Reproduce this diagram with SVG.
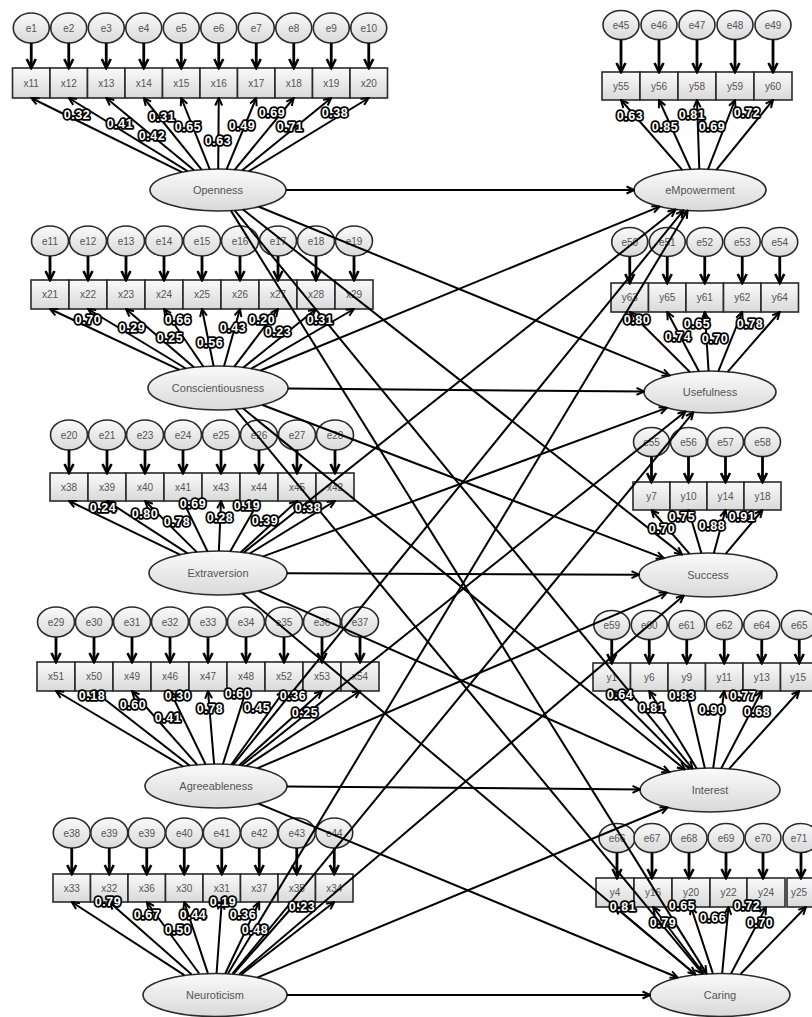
<svg xmlns="http://www.w3.org/2000/svg" width="812" height="1017" viewBox="0 0 812 1017">
<defs>
<linearGradient id="g" x1="0" y1="0" x2="0" y2="1"><stop offset="0" stop-color="#fafafa"/><stop offset="1" stop-color="#d9d9d9"/></linearGradient>
<marker id="ah" viewBox="0 0 12 12" refX="10.5" refY="6" markerWidth="12" markerHeight="12" markerUnits="userSpaceOnUse" orient="auto"><path d="M1.5,1.5 L10.5,6 L1.5,10.5" fill="none" stroke="#000" stroke-width="2.6"/></marker>
<marker id="av" viewBox="0 0 10 10" refX="9" refY="5" markerWidth="10" markerHeight="10" markerUnits="userSpaceOnUse" orient="auto"><path d="M1.5,1.5 L9,5 L1.5,8.5" fill="none" stroke="#000" stroke-width="2"/></marker>
<style>
.n ellipse,.n rect{fill:url(#g);stroke:#2a2a2a;stroke-width:1.6}
.n text{font-family:"Liberation Sans",Arial,sans-serif;font-size:10px;fill:#555;text-anchor:middle}
.lv text{font-size:11px}
#connectors line{stroke:#000;fill:none}
.ea{stroke-width:2.8;marker-end:url(#ah)}
.ld{stroke-width:2;marker-end:url(#av)}
.sp{stroke-width:2;marker-end:url(#av)}
#labels text{font-family:"Liberation Sans",Arial,sans-serif;font-weight:bold;font-size:12.5px;fill:#fff;stroke:#000;stroke-width:3.6;stroke-linejoin:round;paint-order:stroke;text-anchor:middle;letter-spacing:0.6px}
</style>
</defs>
<rect width="812" height="1017" fill="#fff"/>

<!-- Openness block -->
<g id="e1" class="n"><ellipse cx="31.25" cy="28" rx="18" ry="15"/><text x="31.25" y="31.5">e1</text></g>
<g id="e2" class="n"><ellipse cx="68.75" cy="28" rx="18" ry="15"/><text x="68.75" y="31.5">e2</text></g>
<g id="e3" class="n"><ellipse cx="106.25" cy="28" rx="18" ry="15"/><text x="106.25" y="31.5">e3</text></g>
<g id="e4" class="n"><ellipse cx="143.75" cy="28" rx="18" ry="15"/><text x="143.75" y="31.5">e4</text></g>
<g id="e5" class="n"><ellipse cx="181.25" cy="28" rx="18" ry="15"/><text x="181.25" y="31.5">e5</text></g>
<g id="e6" class="n"><ellipse cx="218.75" cy="28" rx="18" ry="15"/><text x="218.75" y="31.5">e6</text></g>
<g id="e7" class="n"><ellipse cx="256.25" cy="28" rx="18" ry="15"/><text x="256.25" y="31.5">e7</text></g>
<g id="e8" class="n"><ellipse cx="293.75" cy="28" rx="18" ry="15"/><text x="293.75" y="31.5">e8</text></g>
<g id="e9" class="n"><ellipse cx="331.25" cy="28" rx="18" ry="15"/><text x="331.25" y="31.5">e9</text></g>
<g id="e10" class="n"><ellipse cx="368.75" cy="28" rx="18" ry="15"/><text x="368.75" y="31.5">e10</text></g>
<g id="x11" class="n"><rect x="12.5" y="68" width="37.5" height="30"/><text x="31.25" y="86.5">x11</text></g>
<g id="x12" class="n"><rect x="50" y="68" width="37.5" height="30"/><text x="68.75" y="86.5">x12</text></g>
<g id="x13" class="n"><rect x="87.5" y="68" width="37.5" height="30"/><text x="106.25" y="86.5">x13</text></g>
<g id="x14" class="n"><rect x="125" y="68" width="37.5" height="30"/><text x="143.75" y="86.5">x14</text></g>
<g id="x15" class="n"><rect x="162.5" y="68" width="37.5" height="30"/><text x="181.25" y="86.5">x15</text></g>
<g id="x16" class="n"><rect x="200" y="68" width="37.5" height="30"/><text x="218.75" y="86.5">x16</text></g>
<g id="x17" class="n"><rect x="237.5" y="68" width="37.5" height="30"/><text x="256.25" y="86.5">x17</text></g>
<g id="x18" class="n"><rect x="275" y="68" width="37.5" height="30"/><text x="293.75" y="86.5">x18</text></g>
<g id="x19" class="n"><rect x="312.5" y="68" width="37.5" height="30"/><text x="331.25" y="86.5">x19</text></g>
<g id="x20" class="n"><rect x="350" y="68" width="37.5" height="30"/><text x="368.75" y="86.5">x20</text></g>
<g id="openness" class="n lv"><ellipse cx="218" cy="190" rx="68" ry="21"/><text x="218" y="194">Openness</text></g>

<!-- Conscientiousness block -->
<g id="e11" class="n"><ellipse cx="50" cy="241" rx="18.5" ry="15"/><text x="50" y="244.5">e11</text></g>
<g id="e12" class="n"><ellipse cx="88" cy="241" rx="18.5" ry="15"/><text x="88" y="244.5">e12</text></g>
<g id="e13" class="n"><ellipse cx="126" cy="241" rx="18.5" ry="15"/><text x="126" y="244.5">e13</text></g>
<g id="e14" class="n"><ellipse cx="164" cy="241" rx="18.5" ry="15"/><text x="164" y="244.5">e14</text></g>
<g id="e15" class="n"><ellipse cx="202" cy="241" rx="18.5" ry="15"/><text x="202" y="244.5">e15</text></g>
<g id="e16" class="n"><ellipse cx="240" cy="241" rx="18.5" ry="15"/><text x="240" y="244.5">e16</text></g>
<g id="e17" class="n"><ellipse cx="278" cy="241" rx="18.5" ry="15"/><text x="278" y="244.5">e17</text></g>
<g id="e18" class="n"><ellipse cx="316" cy="241" rx="18.5" ry="15"/><text x="316" y="244.5">e18</text></g>
<g id="e19" class="n"><ellipse cx="354" cy="241" rx="18.5" ry="15"/><text x="354" y="244.5">e19</text></g>
<g id="x21" class="n"><rect x="31" y="280" width="38" height="29"/><text x="50" y="298">x21</text></g>
<g id="x22" class="n"><rect x="69" y="280" width="38" height="29"/><text x="88" y="298">x22</text></g>
<g id="x23" class="n"><rect x="107" y="280" width="38" height="29"/><text x="126" y="298">x23</text></g>
<g id="x24" class="n"><rect x="145" y="280" width="38" height="29"/><text x="164" y="298">x24</text></g>
<g id="x25" class="n"><rect x="183" y="280" width="38" height="29"/><text x="202" y="298">x25</text></g>
<g id="x26" class="n"><rect x="221" y="280" width="38" height="29"/><text x="240" y="298">x26</text></g>
<g id="x27" class="n"><rect x="259" y="280" width="38" height="29"/><text x="278" y="298">x27</text></g>
<g id="x28" class="n"><rect x="297" y="280" width="38" height="29"/><text x="316" y="298">x28</text></g>
<g id="x29" class="n"><rect x="335" y="280" width="38" height="29"/><text x="354" y="298">x29</text></g>
<g id="conscientiousness" class="n lv"><ellipse cx="218" cy="388" rx="70" ry="22"/><text x="218" y="392">Conscientiousness</text></g>

<!-- Extraversion block -->
<g id="e20" class="n"><ellipse cx="69" cy="435" rx="18.5" ry="15"/><text x="69" y="438.5">e20</text></g>
<g id="e21" class="n"><ellipse cx="107" cy="435" rx="18.5" ry="15"/><text x="107" y="438.5">e21</text></g>
<g id="e23" class="n"><ellipse cx="145" cy="435" rx="18.5" ry="15"/><text x="145" y="438.5">e23</text></g>
<g id="e24" class="n"><ellipse cx="183" cy="435" rx="18.5" ry="15"/><text x="183" y="438.5">e24</text></g>
<g id="e25" class="n"><ellipse cx="221" cy="435" rx="18.5" ry="15"/><text x="221" y="438.5">e25</text></g>
<g id="e26" class="n"><ellipse cx="259" cy="435" rx="18.5" ry="15"/><text x="259" y="438.5">e26</text></g>
<g id="e27" class="n"><ellipse cx="297" cy="435" rx="18.5" ry="15"/><text x="297" y="438.5">e27</text></g>
<g id="e28" class="n"><ellipse cx="335" cy="435" rx="18.5" ry="15"/><text x="335" y="438.5">e28</text></g>
<g id="x38" class="n"><rect x="50" y="473" width="38" height="28"/><text x="69" y="490.5">x38</text></g>
<g id="x39" class="n"><rect x="88" y="473" width="38" height="28"/><text x="107" y="490.5">x39</text></g>
<g id="x40" class="n"><rect x="126" y="473" width="38" height="28"/><text x="145" y="490.5">x40</text></g>
<g id="x41" class="n"><rect x="164" y="473" width="38" height="28"/><text x="183" y="490.5">x41</text></g>
<g id="x43" class="n"><rect x="202" y="473" width="38" height="28"/><text x="221" y="490.5">x43</text></g>
<g id="x44" class="n"><rect x="240" y="473" width="38" height="28"/><text x="259" y="490.5">x44</text></g>
<g id="x45" class="n"><rect x="278" y="473" width="38" height="28"/><text x="297" y="490.5">x45</text></g>
<g id="x42" class="n"><rect x="316" y="473" width="38" height="28"/><text x="335" y="490.5">x42</text></g>
<g id="extraversion" class="n lv"><ellipse cx="218" cy="573" rx="69" ry="22"/><text x="218" y="577">Extraversion</text></g>

<!-- Agreeableness block -->
<g id="e29" class="n"><ellipse cx="56" cy="622" rx="18.5" ry="15"/><text x="56" y="625.5">e29</text></g>
<g id="e30" class="n"><ellipse cx="94" cy="622" rx="18.5" ry="15"/><text x="94" y="625.5">e30</text></g>
<g id="e31" class="n"><ellipse cx="132" cy="622" rx="18.5" ry="15"/><text x="132" y="625.5">e31</text></g>
<g id="e32" class="n"><ellipse cx="170" cy="622" rx="18.5" ry="15"/><text x="170" y="625.5">e32</text></g>
<g id="e33" class="n"><ellipse cx="208" cy="622" rx="18.5" ry="15"/><text x="208" y="625.5">e33</text></g>
<g id="e34" class="n"><ellipse cx="246" cy="622" rx="18.5" ry="15"/><text x="246" y="625.5">e34</text></g>
<g id="e35" class="n"><ellipse cx="284" cy="622" rx="18.5" ry="15"/><text x="284" y="625.5">e35</text></g>
<g id="e36" class="n"><ellipse cx="322" cy="622" rx="18.5" ry="15"/><text x="322" y="625.5">e36</text></g>
<g id="e37" class="n"><ellipse cx="360" cy="622" rx="18.5" ry="15"/><text x="360" y="625.5">e37</text></g>
<g id="x51" class="n"><rect x="37" y="662" width="38" height="29"/><text x="56" y="680">x51</text></g>
<g id="x50" class="n"><rect x="75" y="662" width="38" height="29"/><text x="94" y="680">x50</text></g>
<g id="x49" class="n"><rect x="113" y="662" width="38" height="29"/><text x="132" y="680">x49</text></g>
<g id="x46" class="n"><rect x="151" y="662" width="38" height="29"/><text x="170" y="680">x46</text></g>
<g id="x47" class="n"><rect x="189" y="662" width="38" height="29"/><text x="208" y="680">x47</text></g>
<g id="x48" class="n"><rect x="227" y="662" width="38" height="29"/><text x="246" y="680">x48</text></g>
<g id="x52" class="n"><rect x="265" y="662" width="38" height="29"/><text x="284" y="680">x52</text></g>
<g id="x53" class="n"><rect x="303" y="662" width="38" height="29"/><text x="322" y="680">x53</text></g>
<g id="x54" class="n"><rect x="341" y="662" width="38" height="29"/><text x="360" y="680">x54</text></g>
<g id="agreeableness" class="n lv"><ellipse cx="216" cy="786" rx="71" ry="22"/><text x="216" y="790">Agreeableness</text></g>

<!-- Neuroticism block -->
<g id="e38" class="n"><ellipse cx="71.75" cy="833" rx="18.5" ry="15"/><text x="71.75" y="836.5">e38</text></g>
<g id="e39a" class="n"><ellipse cx="109.25" cy="833" rx="18.5" ry="15"/><text x="109.25" y="836.5">e39</text></g>
<g id="e39b" class="n"><ellipse cx="146.75" cy="833" rx="18.5" ry="15"/><text x="146.75" y="836.5">e39</text></g>
<g id="e40" class="n"><ellipse cx="184.25" cy="833" rx="18.5" ry="15"/><text x="184.25" y="836.5">e40</text></g>
<g id="e41" class="n"><ellipse cx="221.75" cy="833" rx="18.5" ry="15"/><text x="221.75" y="836.5">e41</text></g>
<g id="e42" class="n"><ellipse cx="259.25" cy="833" rx="18.5" ry="15"/><text x="259.25" y="836.5">e42</text></g>
<g id="e43" class="n"><ellipse cx="296.75" cy="833" rx="18.5" ry="15"/><text x="296.75" y="836.5">e43</text></g>
<g id="e44" class="n"><ellipse cx="334.25" cy="833" rx="18.5" ry="15"/><text x="334.25" y="836.5">e44</text></g>
<g id="x33" class="n"><rect x="53" y="874" width="37.5" height="28"/><text x="71.75" y="891.5">x33</text></g>
<g id="x32" class="n"><rect x="90.5" y="874" width="37.5" height="28"/><text x="109.25" y="891.5">x32</text></g>
<g id="x36" class="n"><rect x="128" y="874" width="37.5" height="28"/><text x="146.75" y="891.5">x36</text></g>
<g id="x30" class="n"><rect x="165.5" y="874" width="37.5" height="28"/><text x="184.25" y="891.5">x30</text></g>
<g id="x31" class="n"><rect x="203" y="874" width="37.5" height="28"/><text x="221.75" y="891.5">x31</text></g>
<g id="x37" class="n"><rect x="240.5" y="874" width="37.5" height="28"/><text x="259.25" y="891.5">x37</text></g>
<g id="x35" class="n"><rect x="278" y="874" width="37.5" height="28"/><text x="296.75" y="891.5">x35</text></g>
<g id="x34" class="n"><rect x="315.5" y="874" width="37.5" height="28"/><text x="334.25" y="891.5">x34</text></g>
<g id="neuroticism" class="n lv"><ellipse cx="215" cy="995" rx="72" ry="21.5"/><text x="215" y="999">Neuroticism</text></g>

<!-- eMpowerment block -->
<g id="e45" class="n"><ellipse cx="621" cy="25" rx="18" ry="14.5"/><text x="621" y="28.5">e45</text></g>
<g id="e46" class="n"><ellipse cx="659" cy="25" rx="18" ry="14.5"/><text x="659" y="28.5">e46</text></g>
<g id="e47" class="n"><ellipse cx="697" cy="25" rx="18" ry="14.5"/><text x="697" y="28.5">e47</text></g>
<g id="e48" class="n"><ellipse cx="735" cy="25" rx="18" ry="14.5"/><text x="735" y="28.5">e48</text></g>
<g id="e49" class="n"><ellipse cx="773" cy="25" rx="18" ry="14.5"/><text x="773" y="28.5">e49</text></g>
<g id="y55" class="n"><rect x="602" y="72" width="38" height="28"/><text x="621" y="89.5">y55</text></g>
<g id="y56" class="n"><rect x="640" y="72" width="38" height="28"/><text x="659" y="89.5">y56</text></g>
<g id="y58" class="n"><rect x="678" y="72" width="38" height="28"/><text x="697" y="89.5">y58</text></g>
<g id="y59" class="n"><rect x="716" y="72" width="38" height="28"/><text x="735" y="89.5">y59</text></g>
<g id="y60" class="n"><rect x="754" y="72" width="38" height="28"/><text x="773" y="89.5">y60</text></g>
<g id="empowerment" class="n lv"><ellipse cx="700" cy="190" rx="66" ry="21"/><text x="700" y="194">eMpowerment</text></g>

<!-- Usefulness block -->
<g id="e50" class="n"><ellipse cx="629.75" cy="242" rx="18" ry="14.5"/><text x="629.75" y="245.5">e50</text></g>
<g id="e51" class="n"><ellipse cx="667.25" cy="242" rx="18" ry="14.5"/><text x="667.25" y="245.5">e51</text></g>
<g id="e52" class="n"><ellipse cx="704.75" cy="242" rx="18" ry="14.5"/><text x="704.75" y="245.5">e52</text></g>
<g id="e53" class="n"><ellipse cx="742.25" cy="242" rx="18" ry="14.5"/><text x="742.25" y="245.5">e53</text></g>
<g id="e54" class="n"><ellipse cx="779.75" cy="242" rx="18" ry="14.5"/><text x="779.75" y="245.5">e54</text></g>
<g id="y63" class="n"><rect x="611" y="283" width="37.5" height="29"/><text x="629.75" y="301">y63</text></g>
<g id="y65" class="n"><rect x="648.5" y="283" width="37.5" height="29"/><text x="667.25" y="301">y65</text></g>
<g id="y61" class="n"><rect x="686" y="283" width="37.5" height="29"/><text x="704.75" y="301">y61</text></g>
<g id="y62" class="n"><rect x="723.5" y="283" width="37.5" height="29"/><text x="742.25" y="301">y62</text></g>
<g id="y64" class="n"><rect x="761" y="283" width="37.5" height="29"/><text x="779.75" y="301">y64</text></g>
<g id="usefulness" class="n lv"><ellipse cx="710" cy="392" rx="66" ry="21"/><text x="710" y="396">Usefulness</text></g>

<!-- Success block -->
<g id="e55" class="n"><ellipse cx="651.5" cy="442" rx="18" ry="14.5"/><text x="651.5" y="445.5">e55</text></g>
<g id="e56" class="n"><ellipse cx="688.5" cy="442" rx="18" ry="14.5"/><text x="688.5" y="445.5">e56</text></g>
<g id="e57" class="n"><ellipse cx="725.5" cy="442" rx="18" ry="14.5"/><text x="725.5" y="445.5">e57</text></g>
<g id="e58" class="n"><ellipse cx="762.5" cy="442" rx="18" ry="14.5"/><text x="762.5" y="445.5">e58</text></g>
<g id="y7" class="n"><rect x="633" y="482" width="37" height="28"/><text x="651.5" y="499.5">y7</text></g>
<g id="y10" class="n"><rect x="670" y="482" width="37" height="28"/><text x="688.5" y="499.5">y10</text></g>
<g id="y14" class="n"><rect x="707" y="482" width="37" height="28"/><text x="725.5" y="499.5">y14</text></g>
<g id="y18" class="n"><rect x="744" y="482" width="37" height="28"/><text x="762.5" y="499.5">y18</text></g>
<g id="success" class="n lv"><ellipse cx="708" cy="575" rx="69" ry="22"/><text x="708" y="579">Success</text></g>

<!-- Interest block -->
<g id="e59" class="n"><ellipse cx="611.75" cy="625" rx="18" ry="14.5"/><text x="611.75" y="628.5">e59</text></g>
<g id="e60" class="n"><ellipse cx="649.25" cy="625" rx="18" ry="14.5"/><text x="649.25" y="628.5">e60</text></g>
<g id="e61" class="n"><ellipse cx="686.75" cy="625" rx="18" ry="14.5"/><text x="686.75" y="628.5">e61</text></g>
<g id="e62" class="n"><ellipse cx="724.25" cy="625" rx="18" ry="14.5"/><text x="724.25" y="628.5">e62</text></g>
<g id="e64" class="n"><ellipse cx="761.75" cy="625" rx="18" ry="14.5"/><text x="761.75" y="628.5">e64</text></g>
<g id="e65" class="n"><ellipse cx="799.25" cy="625" rx="18" ry="14.5"/><text x="799.25" y="628.5">e65</text></g>
<g id="y1" class="n"><rect x="593" y="663" width="37.5" height="28"/><text x="611.75" y="680.5">y1</text></g>
<g id="y6" class="n"><rect x="630.5" y="663" width="37.5" height="28"/><text x="649.25" y="680.5">y6</text></g>
<g id="y9" class="n"><rect x="668" y="663" width="37.5" height="28"/><text x="686.75" y="680.5">y9</text></g>
<g id="y11" class="n"><rect x="705.5" y="663" width="37.5" height="28"/><text x="724.25" y="680.5">y11</text></g>
<g id="y13" class="n"><rect x="743" y="663" width="37.5" height="28"/><text x="761.75" y="680.5">y13</text></g>
<g id="y15" class="n"><rect x="780.5" y="663" width="37.5" height="28"/><text x="798" y="680.5">y15</text></g>
<g id="interest" class="n lv"><ellipse cx="710" cy="790" rx="70" ry="22"/><text x="710" y="794">Interest</text></g>

<!-- Caring block -->
<g id="e66" class="n"><ellipse cx="617" cy="838" rx="18" ry="14.5"/><text x="617" y="841.5">e66</text></g>
<g id="e67" class="n"><ellipse cx="652" cy="838" rx="18" ry="14.5"/><text x="652" y="841.5">e67</text></g>
<g id="e68" class="n"><ellipse cx="689" cy="838" rx="18" ry="14.5"/><text x="689" y="841.5">e68</text></g>
<g id="e69" class="n"><ellipse cx="726" cy="838" rx="18" ry="14.5"/><text x="726" y="841.5">e69</text></g>
<g id="e70" class="n"><ellipse cx="763" cy="838" rx="18" ry="14.5"/><text x="763" y="841.5">e70</text></g>
<g id="e71" class="n"><ellipse cx="801" cy="838" rx="18" ry="14.5"/><text x="799" y="841.5">e71</text></g>
<g id="y4" class="n"><rect x="596" y="878" width="38" height="29"/><text x="615" y="896">y4</text></g>
<g id="y16" class="n"><rect x="634" y="878" width="38" height="29"/><text x="653" y="896">y16</text></g>
<g id="y20" class="n"><rect x="672" y="878" width="38" height="29"/><text x="691" y="896">y20</text></g>
<g id="y22" class="n"><rect x="710" y="878" width="37" height="29"/><text x="728.5" y="896">y22</text></g>
<g id="y24" class="n"><rect x="747" y="878" width="38" height="29"/><text x="766" y="896">y24</text></g>
<g id="y25" class="n"><rect x="787" y="878" width="38" height="29"/><text x="799" y="896">y25</text></g>
<g id="caring" class="n lv"><ellipse cx="720" cy="995" rx="70" ry="21.5"/><text x="720" y="999">Caring</text></g>

<g id="connectors">
<!-- error arrows -->
<line class="ea" x1="31.25" y1="43" x2="31.25" y2="68"/><line class="ea" x1="68.75" y1="43" x2="68.75" y2="68"/><line class="ea" x1="106.25" y1="43" x2="106.25" y2="68"/><line class="ea" x1="143.75" y1="43" x2="143.75" y2="68"/><line class="ea" x1="181.25" y1="43" x2="181.25" y2="68"/><line class="ea" x1="218.75" y1="43" x2="218.75" y2="68"/><line class="ea" x1="256.25" y1="43" x2="256.25" y2="68"/><line class="ea" x1="293.75" y1="43" x2="293.75" y2="68"/><line class="ea" x1="331.25" y1="43" x2="331.25" y2="68"/><line class="ea" x1="368.75" y1="43" x2="368.75" y2="68"/>
<line class="ea" x1="50" y1="256" x2="50" y2="280"/><line class="ea" x1="88" y1="256" x2="88" y2="280"/><line class="ea" x1="126" y1="256" x2="126" y2="280"/><line class="ea" x1="164" y1="256" x2="164" y2="280"/><line class="ea" x1="202" y1="256" x2="202" y2="280"/><line class="ea" x1="240" y1="256" x2="240" y2="280"/><line class="ea" x1="278" y1="256" x2="278" y2="280"/><line class="ea" x1="316" y1="256" x2="316" y2="280"/><line class="ea" x1="354" y1="256" x2="354" y2="280"/>
<line class="ea" x1="69" y1="450" x2="69" y2="473"/><line class="ea" x1="107" y1="450" x2="107" y2="473"/><line class="ea" x1="145" y1="450" x2="145" y2="473"/><line class="ea" x1="183" y1="450" x2="183" y2="473"/><line class="ea" x1="221" y1="450" x2="221" y2="473"/><line class="ea" x1="259" y1="450" x2="259" y2="473"/><line class="ea" x1="297" y1="450" x2="297" y2="473"/><line class="ea" x1="335" y1="450" x2="335" y2="473"/>
<line class="ea" x1="56" y1="637" x2="56" y2="662"/><line class="ea" x1="94" y1="637" x2="94" y2="662"/><line class="ea" x1="132" y1="637" x2="132" y2="662"/><line class="ea" x1="170" y1="637" x2="170" y2="662"/><line class="ea" x1="208" y1="637" x2="208" y2="662"/><line class="ea" x1="246" y1="637" x2="246" y2="662"/><line class="ea" x1="284" y1="637" x2="284" y2="662"/><line class="ea" x1="322" y1="637" x2="322" y2="662"/><line class="ea" x1="360" y1="637" x2="360" y2="662"/>
<line class="ea" x1="71.75" y1="848" x2="71.75" y2="874"/><line class="ea" x1="109.25" y1="848" x2="109.25" y2="874"/><line class="ea" x1="146.75" y1="848" x2="146.75" y2="874"/><line class="ea" x1="184.25" y1="848" x2="184.25" y2="874"/><line class="ea" x1="221.75" y1="848" x2="221.75" y2="874"/><line class="ea" x1="259.25" y1="848" x2="259.25" y2="874"/><line class="ea" x1="296.75" y1="848" x2="296.75" y2="874"/><line class="ea" x1="334.25" y1="848" x2="334.25" y2="874"/>
<line class="ea" x1="621" y1="39.5" x2="621" y2="72"/><line class="ea" x1="659" y1="39.5" x2="659" y2="72"/><line class="ea" x1="697" y1="39.5" x2="697" y2="72"/><line class="ea" x1="735" y1="39.5" x2="735" y2="72"/><line class="ea" x1="773" y1="39.5" x2="773" y2="72"/>
<line class="ea" x1="629.75" y1="256.5" x2="629.75" y2="283"/><line class="ea" x1="667.25" y1="256.5" x2="667.25" y2="283"/><line class="ea" x1="704.75" y1="256.5" x2="704.75" y2="283"/><line class="ea" x1="742.25" y1="256.5" x2="742.25" y2="283"/><line class="ea" x1="779.75" y1="256.5" x2="779.75" y2="283"/>
<line class="ea" x1="651.5" y1="456.5" x2="651.5" y2="482"/><line class="ea" x1="688.5" y1="456.5" x2="688.5" y2="482"/><line class="ea" x1="725.5" y1="456.5" x2="725.5" y2="482"/><line class="ea" x1="762.5" y1="456.5" x2="762.5" y2="482"/>
<line class="ea" x1="611.75" y1="639.5" x2="611.75" y2="663"/><line class="ea" x1="649.25" y1="639.5" x2="649.25" y2="663"/><line class="ea" x1="686.75" y1="639.5" x2="686.75" y2="663"/><line class="ea" x1="724.25" y1="639.5" x2="724.25" y2="663"/><line class="ea" x1="761.75" y1="639.5" x2="761.75" y2="663"/><line class="ea" x1="799.25" y1="639.5" x2="799.25" y2="663"/>
<line class="ea" x1="617" y1="852.5" x2="617" y2="878"/><line class="ea" x1="652" y1="852.5" x2="652" y2="878"/><line class="ea" x1="689" y1="852.5" x2="689" y2="878"/><line class="ea" x1="726" y1="852.5" x2="726" y2="878"/><line class="ea" x1="763" y1="852.5" x2="763" y2="878"/><line class="ea" x1="801" y1="852.5" x2="801" y2="878"/>
<!-- loadings -->
<line class="ld" x1="181.9" y1="172.2" x2="31.25" y2="98"/><line class="ld" x1="187.5" y1="171.2" x2="68.75" y2="98"/><line class="ld" x1="194.1" y1="170.3" x2="106.25" y2="98"/><line class="ld" x1="201.6" y1="169.6" x2="143.75" y2="98"/><line class="ld" x1="209.7" y1="169.2" x2="181.25" y2="98"/><line class="ld" x1="218.2" y1="169" x2="218.75" y2="98"/><line class="ld" x1="226.7" y1="169.2" x2="256.25" y2="98"/><line class="ld" x1="234.8" y1="169.6" x2="293.75" y2="98"/><line class="ld" x1="242.2" y1="170.4" x2="331.25" y2="98"/><line class="ld" x1="248.7" y1="171.3" x2="368.75" y2="98"/>
<line class="ld" x1="179.1" y1="369.7" x2="50" y2="309"/><line class="ld" x1="185.8" y1="368.5" x2="88" y2="309"/><line class="ld" x1="193.9" y1="367.3" x2="126" y2="309"/><line class="ld" x1="203.3" y1="366.5" x2="164" y2="309"/><line class="ld" x1="213.6" y1="366" x2="202" y2="309"/><line class="ld" x1="224.1" y1="366.1" x2="240" y2="309"/><line class="ld" x1="234.3" y1="366.6" x2="278" y2="309"/><line class="ld" x1="243.4" y1="367.5" x2="316" y2="309"/><line class="ld" x1="251.3" y1="368.6" x2="354" y2="309"/>
<line class="ld" x1="180" y1="554.6" x2="69" y2="501"/><line class="ld" x1="187.6" y1="553.3" x2="107" y2="501"/><line class="ld" x1="196.8" y1="552.1" x2="145" y2="501"/><line class="ld" x1="207.4" y1="551.3" x2="183" y2="501"/><line class="ld" x1="218.9" y1="551" x2="221" y2="501"/><line class="ld" x1="230.3" y1="551.3" x2="259" y2="501"/><line class="ld" x1="240.8" y1="552.2" x2="297" y2="501"/><line class="ld" x1="249.7" y1="553.5" x2="335" y2="501"/>
<line class="ld" x1="183.2" y1="766.5" x2="56" y2="691"/><line class="ld" x1="189.7" y1="765.6" x2="94" y2="691"/><line class="ld" x1="197.2" y1="764.8" x2="132" y2="691"/><line class="ld" x1="205.5" y1="764.2" x2="170" y2="691"/><line class="ld" x1="214.1" y1="764" x2="208" y2="691"/><line class="ld" x1="222.9" y1="764.1" x2="246" y2="691"/><line class="ld" x1="231.4" y1="764.5" x2="284" y2="691"/><line class="ld" x1="239.2" y1="765.2" x2="322" y2="691"/><line class="ld" x1="246.2" y1="766.1" x2="360" y2="691"/>
<line class="ld" x1="184.3" y1="975.1" x2="71.75" y2="902"/><line class="ld" x1="191.4" y1="974.2" x2="109.25" y2="902"/><line class="ld" x1="199.2" y1="973.5" x2="146.75" y2="902"/><line class="ld" x1="207.8" y1="973.1" x2="184.25" y2="902"/><line class="ld" x1="216.6" y1="973" x2="221.75" y2="902"/><line class="ld" x1="225.4" y1="973.2" x2="259.25" y2="902"/><line class="ld" x1="233.7" y1="973.7" x2="296.75" y2="902"/><line class="ld" x1="241.3" y1="974.5" x2="334.25" y2="902"/>
<line class="ld" x1="682.2" y1="169.8" x2="621" y2="100"/><line class="ld" x1="690.5" y1="169.2" x2="659" y2="100"/><line class="ld" x1="699.3" y1="169" x2="697" y2="100"/><line class="ld" x1="708.1" y1="169.2" x2="735" y2="100"/><line class="ld" x1="716.5" y1="169.7" x2="773" y2="100"/>
<line class="ld" x1="689.9" y1="372" x2="629.75" y2="312"/><line class="ld" x1="698.9" y1="371.3" x2="667.25" y2="312"/><line class="ld" x1="708.6" y1="371" x2="704.75" y2="312"/><line class="ld" x1="718.4" y1="371.2" x2="742.25" y2="312"/><line class="ld" x1="727.6" y1="371.8" x2="779.75" y2="312"/>
<line class="ld" x1="689.6" y1="553.8" x2="651.5" y2="510"/><line class="ld" x1="701.4" y1="553.1" x2="688.5" y2="510"/><line class="ld" x1="713.9" y1="553.1" x2="725.5" y2="510"/><line class="ld" x1="725.8" y1="553.7" x2="762.5" y2="510"/>
<line class="ld" x1="689.2" y1="769" x2="611.75" y2="691"/><line class="ld" x1="696.7" y1="768.4" x2="649.25" y2="691"/><line class="ld" x1="704.8" y1="768.1" x2="686.75" y2="691"/><line class="ld" x1="713.2" y1="768" x2="724.25" y2="691"/><line class="ld" x1="721.3" y1="768.3" x2="761.75" y2="691"/><line class="ld" x1="729.1" y1="768.8" x2="799.25" y2="691"/>
<line class="ld" x1="695.4" y1="974.4" x2="615" y2="907"/><line class="ld" x1="703.7" y1="973.6" x2="653" y2="907"/><line class="ld" x1="712.8" y1="973.1" x2="691" y2="907"/><line class="ld" x1="722.2" y1="973" x2="728.5" y2="907"/><line class="ld" x1="731.2" y1="973.3" x2="766" y2="907"/><line class="ld" x1="740.6" y1="974" x2="806" y2="907"/>
<!-- structural paths -->
<line class="sp" x1="286" y1="190" x2="634" y2="190"/>
<line class="sp" x1="258.9" y1="206.8" x2="669.6" y2="375.4"/>
<line class="sp" x1="242.9" y1="209.5" x2="682.1" y2="554.6"/>
<line class="sp" x1="234.7" y1="210.4" x2="692.5" y2="768.7"/>
<line class="sp" x1="230.9" y1="210.6" x2="706.5" y2="973.4"/>
<line class="sp" x1="260.5" y1="370.5" x2="659.6" y2="206.6"/>
<line class="sp" x1="288" y1="388.6" x2="644" y2="391.5"/>
<line class="sp" x1="262.5" y1="405" x2="663.8" y2="558.1"/>
<line class="sp" x1="243.1" y1="408.5" x2="684.9" y2="769.5"/>
<line class="sp" x1="235.6" y1="409.3" x2="702.4" y2="973.7"/>
<line class="sp" x1="243.7" y1="552.6" x2="675.5" y2="209.5"/>
<line class="sp" x1="263.2" y1="556.4" x2="666.8" y2="407.9"/>
<line class="sp" x1="287" y1="573.3" x2="639" y2="574.7"/>
<line class="sp" x1="258.4" y1="590.8" x2="669.4" y2="772.1"/>
<line class="sp" x1="242.5" y1="593.6" x2="695.5" y2="974.4"/>
<line class="sp" x1="233.3" y1="764.7" x2="683.5" y2="210.3"/>
<line class="sp" x1="241.7" y1="765.5" x2="685.5" y2="411.5"/>
<line class="sp" x1="257.6" y1="768.2" x2="666.8" y2="592.7"/>
<line class="sp" x1="287" y1="786.6" x2="640" y2="789.4"/>
<line class="sp" x1="258.5" y1="803.6" x2="677.7" y2="977.5"/>
<line class="sp" x1="228" y1="973.4" x2="687.6" y2="210.6"/>
<line class="sp" x1="232.5" y1="973.7" x2="693.3" y2="412.3"/>
<line class="sp" x1="239.3" y1="974.3" x2="683.8" y2="595.6"/>
<line class="sp" x1="257.7" y1="977.3" x2="667.7" y2="807.5"/>
<line class="sp" x1="287" y1="995" x2="650" y2="995"/>
</g>

<g id="labels">
<text x="77" y="119">0.32</text><text x="120" y="128">0.41</text><text x="152" y="140">0.42</text><text x="162" y="121">0.31</text><text x="188" y="131">0.65</text><text x="218" y="145">0.63</text><text x="242" y="130">0.49</text><text x="272" y="117">0.69</text><text x="290" y="131">0.71</text><text x="335" y="117">0.38</text>
<text x="88" y="324">0.70</text><text x="132" y="332">0.29</text><text x="170" y="342">0.25</text><text x="178" y="324">0.66</text><text x="210" y="347">0.56</text><text x="233" y="332">0.43</text><text x="262" y="324">0.20</text><text x="278" y="336">0.23</text><text x="320" y="324">0.31</text>
<text x="103" y="512">0.24</text><text x="145" y="518">0.80</text><text x="177" y="526">0.78</text><text x="193" y="508">0.69</text><text x="220" y="522">0.28</text><text x="247" y="510">0.19</text><text x="265" y="525">0.39</text><text x="308" y="512">0.38</text>
<text x="92" y="700">0.18</text><text x="133" y="709">0.60</text><text x="168" y="722">0.41</text><text x="178" y="700">0.30</text><text x="210" y="713">0.78</text><text x="238" y="698">0.60</text><text x="257" y="712">0.45</text><text x="293" y="700">0.36</text><text x="305" y="717">0.25</text>
<text x="108" y="906">0.79</text><text x="147" y="919">0.67</text><text x="178" y="934">0.50</text><text x="193" y="919">0.44</text><text x="223" y="906">0.19</text><text x="243" y="919">0.36</text><text x="255" y="934">0.48</text><text x="302" y="911">0.23</text>
<text x="630" y="120">0.63</text><text x="665" y="131">0.85</text><text x="692" y="119">0.81</text><text x="712" y="131">0.69</text><text x="747" y="117">0.72</text>
<text x="637" y="324">0.80</text><text x="697" y="328">0.65</text><text x="678" y="341">0.74</text><text x="715" y="343">0.70</text><text x="750" y="328">0.78</text>
<text x="662" y="533">0.70</text><text x="682" y="521">0.75</text><text x="712" y="530">0.88</text><text x="742" y="521">0.91</text>
<text x="620" y="699">0.64</text><text x="652" y="712">0.81</text><text x="682" y="700">0.83</text><text x="712" y="714">0.90</text><text x="743" y="700">0.77</text><text x="757" y="716">0.68</text>
<text x="623" y="911">0.81</text><text x="682" y="910">0.65</text><text x="663" y="927">0.79</text><text x="713" y="922">0.66</text><text x="747" y="910">0.72</text><text x="760" y="927">0.70</text>
</g>
</svg>
